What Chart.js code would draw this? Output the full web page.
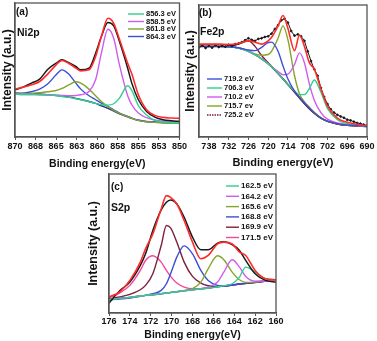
<!DOCTYPE html>
<html>
<head>
<meta charset="utf-8">
<script src="https://cdn.jsdelivr.net/npm/chart.js@4.4.0/dist/chart.umd.min.js"></script>
<style>
  html, body { margin: 0; padding: 0; background: #fff; }
  #fig { position: relative; width: 377px; height: 341px; overflow: hidden; background: #fff; }
  .panel { position: absolute; }
</style>
</head>
<body>
<div id="fig">
  <div class="panel" style="left:0;top:0"><canvas id="chartNi" width="188" height="170"></canvas></div>
  <div class="panel" style="left:183px;top:0"><canvas id="chartFe" width="194" height="170"></canvas></div>
  <div class="panel" style="left:86px;top:170px"><canvas id="chartS" width="204" height="171"></canvas></div>
</div>
<script>
// ---- (a) Ni2p ----
const ENERGY_NI = [870, 869, 868, 867, 866, 865, 864.3, 863.5, 862.6, 862, 861, 860.2, 859.5, 858.7, 858, 857.3, 856.3, 855.8, 855, 854, 853, 852, 851, 850];
const NI_RAW  = [142, 150, 162, 174, 204, 222, 232, 224, 212, 202, 207, 252, 302, 344, 334, 287, 207, 162, 112, 77, 60, 52, 49, 47];
const NI_FIT  = [144, 150, 157, 167, 190, 217, 230, 222, 207, 199, 202, 242, 302, 357, 342, 294, 222, 190, 127, 82, 65, 59, 57, 56];
const NI_8563 = [129, 128, 128, 127, 126, 125, 122, 119, 115, 112, 106, 101, 97, 96, 100, 117, 154, 140, 94, 66, 50, 45, 43, 43];
const NI_8585 = [129, 128, 128, 127, 127, 126, 125, 124, 125, 127, 137, 172, 252, 324, 297, 217, 124, 97, 72, 58, 51, 48, 46, 45];
const NI_8618 = [130, 130, 131, 133, 136, 140, 146, 156, 166, 162, 144, 124, 107, 92, 80, 71, 61, 56, 50, 46, 44, 43, 42, 42];
const NI_8643 = [129, 132, 136, 144, 160, 187, 202, 190, 162, 144, 124, 112, 102, 92, 82, 72, 62, 57, 51, 47, 45, 44, 43, 43];
const NI_BG   = [132, 131, 130, 129, 127, 125, 123, 120, 116, 113, 107, 101, 94, 86, 78, 70, 61, 56, 50, 46, 44, 43, 42, 42];
const NI_TICKS = [870, 867.5, 865, 862.5, 860, 857.5, 855, 852.5, 850];
const NI_TICK_LABELS = ['870', '868', '865', '863', '860', '858', '855', '853', '850'];

// ---- (b) Fe2p ----
const ENERGY_FE = [741, 738, 735, 732, 729, 726, 724, 722, 720, 719, 717, 715.5, 714, 712, 710.5, 709, 707.5, 706, 704, 702, 699, 696, 693, 690];
const FE_FIT  = [285, 285, 285, 284, 287, 295, 291, 285, 295, 305, 341, 373, 333, 265, 313, 278, 228, 208, 148, 95, 58, 45, 39, 35];
const FE_7192 = [278, 278, 278, 277, 274, 267, 265, 275, 290, 291, 263, 218, 178, 141, 122, 105, 89, 75, 59, 49, 41, 37, 35, 33];
const FE_7063 = [278, 278, 278, 277, 273, 263, 253, 240, 225, 216, 195, 178, 161, 141, 130, 130, 148, 175, 138, 88, 53, 41, 36, 33];
const FE_7102 = [278, 278, 278, 277, 273, 263, 253, 240, 225, 216, 201, 191, 193, 223, 258, 228, 163, 113, 75, 55, 43, 38, 35, 33];
const FE_7157 = [278, 278, 278, 277, 273, 263, 255, 251, 253, 263, 303, 341, 298, 188, 133, 108, 91, 75, 59, 49, 41, 37, 35, 33];
const FE_7252 = [278, 278, 278, 278, 285, 295, 278, 250, 228, 217, 195, 178, 161, 138, 120, 103, 87, 73, 58, 48, 40, 36, 34, 32];
const FE_BG   = [278, 278, 278, 277, 273, 263, 253, 240, 225, 216, 195, 178, 161, 138, 120, 103, 87, 73, 58, 48, 40, 36, 34, 32];
const ENERGY_FE_RAW = [741, 740, 739, 738, 737, 736, 735, 734, 733, 732, 731, 730, 729, 728, 727, 726, 725, 724, 723, 722, 721, 720, 719, 718, 717, 716,
  715, 714, 713, 712, 711, 710, 709, 708, 707, 706, 705, 704, 703, 702, 701, 700, 699, 698, 697, 696, 695, 694, 693, 692, 691, 690];
const FE_RAW = [275, 281, 273, 279, 274, 282, 276, 280, 277, 283, 279, 285, 287, 291, 297, 303, 298, 295, 301, 303, 307, 309, 317, 331, 343, 358,
  363, 351, 325, 311, 315, 309, 295, 263, 233, 208, 188, 151, 123, 101, 85, 75, 68, 63, 59, 53, 51, 47, 43, 41, 38, 35];
const FE_TICKS = [738, 732, 726, 720, 714, 708, 702, 696, 690];
const FE_TICK_LABELS = ['738', '732', '726', '720', '714', '708', '702', '696', '690'];

// ---- (c) S2p ----
const ENERGY_S = [176, 175, 174, 173, 172.5, 171.8, 171, 170.5, 170.1, 169.5, 168.8, 168, 167.2, 166.5, 165.6, 165, 164.2, 163.5, 162.9, 162, 161, 160];
const S_RAW  = [30, 66, 93, 143, 178, 248, 310, 333, 340, 328, 288, 228, 190, 190, 210, 214, 206, 188, 158, 118, 98, 93];
const S_FIT  = [48, 63, 98, 153, 193, 238, 313, 353, 348, 328, 278, 213, 163, 173, 208, 213, 208, 183, 173, 128, 103, 100];
const S_1625 = [40, 44, 47, 51, 53, 55, 58, 60, 62, 64, 67, 70, 73, 75, 79, 82, 88, 108, 138, 123, 103, 100];
const S_1642 = [40, 44, 47, 51, 53, 55, 58, 60, 62, 64, 67, 70, 73, 78, 93, 123, 160, 138, 110, 96, 97, 100];
const S_1656 = [40, 44, 47, 51, 53, 55, 58, 60, 62, 64, 67, 73, 93, 133, 172, 160, 123, 100, 92, 93, 97, 100];
const S_1688 = [40, 42, 45, 50, 53, 58, 68, 88, 118, 168, 202, 178, 128, 98, 83, 81, 84, 87, 89, 92, 96, 100];
const S_1699 = [42, 48, 56, 70, 83, 118, 203, 263, 256, 213, 153, 110, 90, 82, 80, 81, 84, 87, 89, 92, 96, 100];
const S_1715 = [45, 60, 83, 128, 158, 172, 153, 128, 110, 90, 78, 73, 73, 75, 79, 81, 84, 87, 89, 92, 96, 100];
const S_BG   = [40, 44, 47, 51, 53, 55, 58, 60, 62, 64, 67, 70, 73, 75, 79, 81, 84, 87, 89, 92, 96, 100];
const S_TICKS = [176, 174, 172, 170, 168, 166, 164, 162, 160];
const S_TICK_LABELS = ['176', '174', '172', '170', '168', '166', '164', '162', '160'];

const FONT = '"Liberation Sans", Arial, sans-serif';
const AXIS = '#555';
const C = {
  fit: '#ff2a2a', raw: '#1a1a1a', green: '#2fcf8c', violet: '#cf5bef', olive: '#86a42a',
  blue: '#3b4fd6', maroon: '#7e1f3c', pink: '#f2479d', base: '#24308c'
};

function pts(xs, ys) { return xs.map((x, i) => ({ x, y: ys[i] })); }

function line(data, color, extra) {
  return Object.assign({
    data, borderColor: color, backgroundColor: color, borderWidth: 1.4,
    pointRadius: 0, fill: false, cubicInterpolationMode: 'monotone'
  }, extra || {});
}

const framePlugin = {
  id: 'frame',
  afterDatasetsDraw(chart) {
    const { ctx, chartArea: a } = chart;
    ctx.save();
    ctx.strokeStyle = AXIS;
    ctx.lineWidth = 1.3;
    ctx.strokeRect(a.left, a.top, a.right - a.left, a.bottom - a.top);
    ctx.restore();
  }
};

const legendPlugin = {
  id: 'peakLegend',
  afterDraw(chart, args, o) {
    const ctx = chart.ctx;
    const items = chart.data.datasets.filter(d => d.legendText).sort((a, b) => a.legendRank - b.legendRank);
    ctx.save();
    ctx.font = `bold ${o.size}px ${FONT}`;
    ctx.textBaseline = 'middle';
    items.forEach((d, i) => {
      const y = o.y + i * o.dy;
      ctx.strokeStyle = d.borderColor;
      ctx.lineWidth = 1.4;
      ctx.setLineDash(d.legendDash || []);
      ctx.beginPath();
      ctx.moveTo(o.x, y);
      ctx.lineTo(o.x + o.w, y);
      ctx.stroke();
      ctx.fillStyle = '#111';
      ctx.fillText(d.legendText, o.x + o.w + 2, y);
    });
    ctx.restore();
  }
};

const textPlugin = {
  id: 'panelText',
  afterDraw(chart, args, o) {
    const ctx = chart.ctx;
    ctx.save();
    ctx.fillStyle = '#111';
    ctx.textBaseline = 'middle';
    o.items.forEach(t => {
      ctx.font = `bold ${t.size}px ${FONT}`;
      ctx.fillText(t.text, t.x, t.y);
    });
    ctx.restore();
  }
};

function makePanel(id, p) {
  return new Chart(document.getElementById(id), {
    type: 'line',
    data: { datasets: p.datasets },
    options: {
      responsive: false,
      animation: false,
      events: [],
      layout: { padding: p.padding },
      plugins: {
        legend: { display: false },
        tooltip: { enabled: false },
        peakLegend: p.legend,
        panelText: { items: p.texts }
      },
      scales: {
        x: {
          type: 'linear', reverse: true, min: p.xMin, max: p.xMax,
          afterBuildTicks: s => { s.ticks = p.ticks.map(v => ({ value: v })); },
          afterFit: s => { s.height = p.xHeight; },
          ticks: {
            callback: (v, i) => p.tickLabels[i],
            font: { family: FONT, weight: 'bold', size: 9 }, color: '#111',
            padding: p.tickPad, maxRotation: 0, autoSkip: false
          },
          grid: { drawOnChartArea: false, drawTicks: true, tickLength: 3, color: AXIS },
          border: { display: true, color: AXIS, width: 1.3 },
          title: {
            display: true, text: 'Binding energy(eV)', color: '#111',
            font: { family: FONT, weight: 'bold', size: p.xTitleSize },
            padding: { top: 0, bottom: p.xTitlePad }
          }
        },
        y: {
          min: 0, max: p.yMax,
          afterFit: s => { s.width = p.yWidth; },
          ticks: { display: false },
          grid: { display: false },
          border: { display: true, color: AXIS, width: 1.3 },
          title: {
            display: true, text: 'Intensity (a.u.)', color: '#111',
            font: { family: FONT, weight: 'bold', size: p.yTitleSize }, padding: 0
          }
        }
      }
    },
    plugins: [framePlugin, legendPlugin, textPlugin]
  });
}

makePanel('chartNi', {
  padding: { left: 0, right: 5, top: 3, bottom: 0 },
  yWidth: 15, xHeight: 33, yMax: 403, xMin: 850, xMax: 870,
  ticks: NI_TICKS, tickLabels: NI_TICK_LABELS, tickPad: 1,
  xTitleSize: 10.5, xTitlePad: 0, yTitleSize: 12,
  legend: { x: 128, y: 14, dy: 7.5, w: 16, size: 7.5 },
  texts: [{ text: '(a)', x: 16, y: 12, size: 10 }, { text: 'Ni2p', x: 17, y: 33, size: 10.5 }],
  datasets: [
    line(pts(ENERGY_NI, NI_FIT), C.fit, { borderWidth: 1.6 }),
    line(pts(ENERGY_NI, NI_RAW), C.raw, { borderWidth: 1.5 }),
    line(pts(ENERGY_NI, NI_8563), C.green, { legendText: '856.3 eV', legendRank: 0 }),
    line(pts(ENERGY_NI, NI_8585), C.violet, { legendText: '858.5 eV', legendRank: 1 }),
    line(pts(ENERGY_NI, NI_8618), C.olive, { legendText: '861.8 eV', legendRank: 2 }),
    line(pts(ENERGY_NI, NI_8643), C.blue, { legendText: '864.3 eV', legendRank: 3 }),
    line(pts(ENERGY_NI, NI_BG), C.base, { borderWidth: 1.5 })
  ]
});

makePanel('chartFe', {
  padding: { left: 0, right: 10, top: 3, bottom: 0 },
  yWidth: 16, xHeight: 33, yMax: 405, xMin: 690, xMax: 741,
  ticks: FE_TICKS, tickLabels: FE_TICK_LABELS, tickPad: 1,
  xTitleSize: 11, xTitlePad: 0, yTitleSize: 12,
  legend: { x: 24, y: 79, dy: 9, w: 15, size: 7.5 },
  texts: [{ text: '(b)', x: 16, y: 13, size: 10 }, { text: 'Fe2p', x: 17, y: 32, size: 10.5 }],
  datasets: [
    line(pts(ENERGY_FE, FE_FIT), C.fit, { borderWidth: 1.6 }),
    line(pts(ENERGY_FE_RAW, FE_RAW), C.raw, { borderWidth: 1, pointRadius: 0.9, cubicInterpolationMode: 'default', tension: 0 }),
    line(pts(ENERGY_FE, FE_7192), C.blue, { legendText: '719.2 eV', legendRank: 0 }),
    line(pts(ENERGY_FE, FE_7063), C.green, { legendText: '706.3 eV', legendRank: 1 }),
    line(pts(ENERGY_FE, FE_7102), C.violet, { legendText: '710.2 eV', legendRank: 2 }),
    line(pts(ENERGY_FE, FE_7157), C.olive, { legendText: '715.7 ev', legendRank: 3 }),
    line(pts(ENERGY_FE, FE_7252), C.maroon, { legendText: '725.2 eV', legendRank: 4, legendDash: [1.5, 1] }),
    line(pts(ENERGY_FE, FE_BG), '#202038', { borderWidth: 1.5 })
  ]
});

makePanel('chartS', {
  padding: { left: 0, right: 14, top: 4, bottom: 0 },
  yWidth: 23, xHeight: 28, yMax: 418, xMin: 160, xMax: 176,
  ticks: S_TICKS, tickLabels: S_TICK_LABELS, tickPad: 0,
  xTitleSize: 10.5, xTitlePad: 0, yTitleSize: 12.5,
  legend: { x: 140, y: 16, dy: 10.3, w: 13, size: 8 },
  texts: [{ text: '(c)', x: 25, y: 17, size: 10 }, { text: 'S2p', x: 25, y: 38, size: 10.5 }],
  datasets: [
    line(pts(ENERGY_S, S_FIT), C.fit, { borderWidth: 1.6 }),
    line(pts(ENERGY_S, S_RAW), C.raw, { borderWidth: 1.5 }),
    line(pts(ENERGY_S, S_1625), C.green, { legendText: '162.5 eV', legendRank: 0 }),
    line(pts(ENERGY_S, S_1642), C.violet, { legendText: '164.2 eV', legendRank: 1 }),
    line(pts(ENERGY_S, S_1656), C.olive, { legendText: '165.6 eV', legendRank: 2 }),
    line(pts(ENERGY_S, S_1688), C.blue, { legendText: '168.8 eV', legendRank: 3 }),
    line(pts(ENERGY_S, S_1699), C.maroon, { legendText: '169.9 eV', legendRank: 4 }),
    line(pts(ENERGY_S, S_1715), C.pink, { legendText: '171.5 eV', legendRank: 5 }),
    line(pts(ENERGY_S, S_BG), C.base, { borderWidth: 1.5 })
  ]
});
</script>
</body>
</html>
